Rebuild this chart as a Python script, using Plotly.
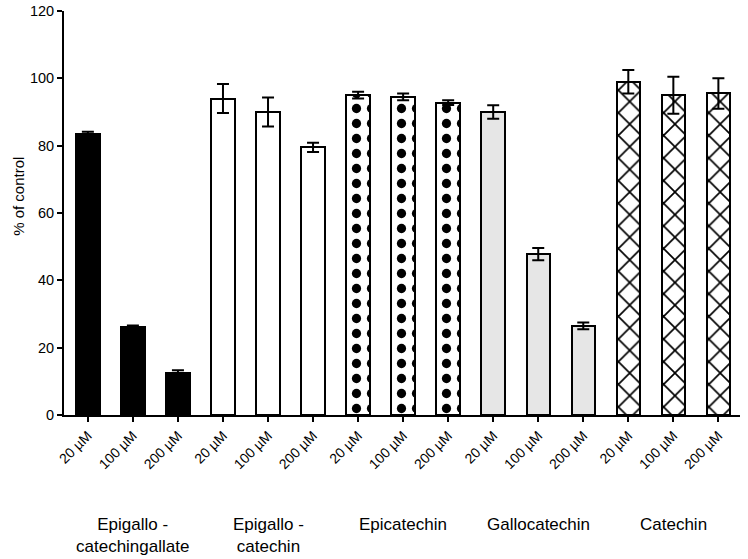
import plotly.graph_objects as go

compounds = ["Epigallo -<br>catechingallate", "Epigallo -<br>catechin", "Epicatechin", "Gallocatechin", "Catechin"]
doses = ["20 µM", "100 µM", "200 µM"]
values = [
    [83.5, 26.0, 12.5],
    [94.0, 90.0, 79.5],
    [95.0, 94.5, 92.8],
    [90.0, 47.8, 26.5],
    [99.0, 95.0, 95.5],
]
errors = [
    [0.6, 0.6, 0.8],
    [4.3, 4.3, 1.4],
    [1.0, 1.0, 0.7],
    [2.0, 1.8, 1.0],
    [3.5, 5.5, 4.5],
]
y_ticks = [0, 20, 40, 60, 80, 100, 120]

styles = [
    dict(color="black", pattern=None),
    dict(color="white", pattern=None),
    dict(color="white", pattern=dict(shape=".", fgcolor="black", fgopacity=1, bgcolor="white", size=15, solidity=0.3)),
    dict(color="#e6e6e6", pattern=None),
    dict(color="white", pattern=dict(shape="x", fgcolor="black", fgopacity=1, bgcolor="white", size=16, solidity=0.2)),
]

fig = go.Figure()
tickvals, ticktext = [], []
for gi, (name, vals, errs) in enumerate(zip(compounds, values, errors)):
    xs = [gi * 3 + k for k in range(3)]
    tickvals += xs
    ticktext += doses
    marker = dict(color=styles[gi]["color"], line=dict(color="black", width=2))
    if styles[gi]["pattern"]:
        marker["pattern"] = styles[gi]["pattern"]
    fig.add_trace(go.Bar(
        x=xs, y=vals, width=0.52, marker=marker, showlegend=False,
        error_y=dict(type="data", array=errs, color="black", thickness=2, width=6),
    ))
    fig.add_annotation(x=gi * 3 + 1, y=-0.2425, xref="x", yref="paper", text=name,
                       showarrow=False, yanchor="top", font=dict(size=17, color="black"))

fig.add_annotation(x=0, y=0.54, xref="paper", yref="paper", xanchor="center", yanchor="middle",
                   xshift=-45, text="% of control",
                   textangle=-90, showarrow=False, font=dict(size=15, color="black"))

fig.update_layout(
    width=748, height=559,
    margin=dict(l=64, r=8, t=11, b=144),
    plot_bgcolor="white", paper_bgcolor="white",
    font=dict(family="Liberation Sans, Arial, sans-serif", color="black"),
    bargap=0,
)
fig.update_xaxes(range=[-0.53, 14.48], tickvals=tickvals, ticktext=ticktext, tickangle=-45,
                 showline=True, linecolor="black", linewidth=2, ticks="outside", ticklen=5,
                 tickwidth=2, tickcolor="black", showgrid=False, zeroline=False,
                 tickfont=dict(size=14), automargin=False)
fig.update_yaxes(range=[0, 120], tickvals=y_ticks, showline=True, linecolor="black", linewidth=2,
                 ticks="outside", ticklen=5, tickwidth=2, tickcolor="black", showgrid=False,
                 zeroline=False, tickfont=dict(size=14.5), automargin=False,
                 ticklabeloverflow="allow")
fig.write_html("out.html", config={"displayModeBar": False},
               post_script="document.body.style.margin='0';")
